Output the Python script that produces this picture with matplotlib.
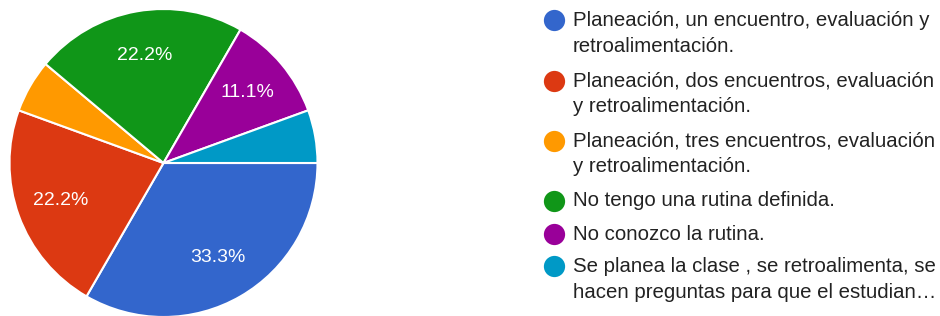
import matplotlib
matplotlib.use('Agg')
import matplotlib.pyplot as plt

# data
labels = [['Planeación, un encuentro, evaluación y', 'retroalimentación.'],
          ['Planeación, dos encuentros, evaluación', 'y retroalimentación.'],
          ['Planeación, tres encuentros, evaluación', 'y retroalimentación.'],
          ['No tengo una rutina definida.'],
          ['No conozco la rutina.'],
          ['Se planea la clase , se retroalimenta, se', 'hacen preguntas para que el estudian…']]
counts = [6, 4, 1, 4, 2, 1]
colors = ['#3366cc', '#dc3912', '#ff9900', '#109618', '#990099', '#0099c6']

plt.rcParams['font.family'] = ['Liberation Sans', 'DejaVu Sans']

W, H = 940, 316
fig = plt.figure(figsize=(W / 100, H / 100), dpi=100)

# pie
cx, cy, r = 163.5, 163, 154
ax = fig.add_axes([(cx - r) / W, (H - cy - r) / H, 2 * r / W, 2 * r / H])


def fmt(p):
    return '%.1f%%' % p if p > 7 else ''


wedges, texts, autotexts = ax.pie(counts, colors=colors, startangle=0, counterclock=False,
                                  autopct=fmt, pctdistance=0.71,
                                  wedgeprops=dict(edgecolor='white', linewidth=1.5),
                                  textprops=dict(color='white', fontsize=14))
ax.set_xlim(-1, 1)
ax.set_ylim(-1, 1)
ax.set_aspect('auto')
ax.axis('off')

# legend drawn in pixel coords
lax = fig.add_axes([0, 0, 1, 1])
lax.set_xlim(0, W)
lax.set_ylim(H, 0)
lax.axis('off')
rows_y = [20, 81, 141, 201, 234, 266]
for y, lab, c in zip(rows_y, labels, colors):
    lax.plot(554, y, 'o', ms=15.3, color=c, mec='none')
    for k, line in enumerate(lab):
        lax.text(573, y + 26 * k, line, fontsize=14.7, color='#222222',
                 va='center', ha='left')

fig.savefig('out.png', dpi=100)
